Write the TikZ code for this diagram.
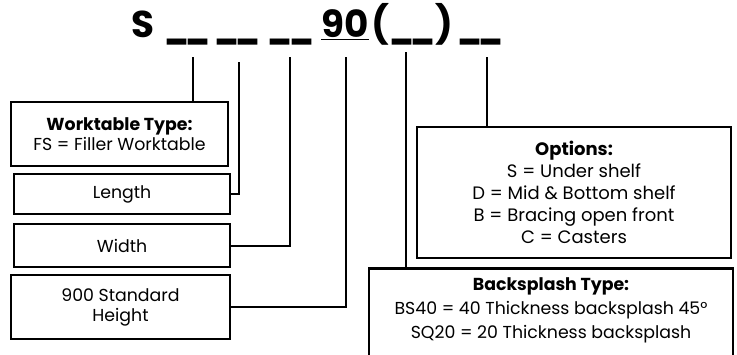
\documentclass[tikz,border=0pt]{standalone}
\usepackage{fontspec}
\setmainfont{Poppins}
\usetikzlibrary{positioning}

\newcommand{\blank}{\scalebox{0.85}[1]{\_\kern-3pt\_}}

\begin{document}
\begin{tikzpicture}[x=0.75pt,y=-0.75pt,align=center,
  code part/.style={font=\fontsize{28}{30}\selectfont\bfseries,anchor=base,inner sep=0pt},
  info box/.style={draw,line width=1.8pt,inner sep=0pt,font=\fontsize{13}{15}\selectfont},
  lead/.style={line width=1.5pt}]

\useasboundingbox (0,0) rectangle (737,354);

% the part code
\node[code part] (s)      at (142.5,37) {S};
\node[code part] (blank1) at (187.5,37) {\blank};
\node[code part] (blank2) at (237.5,37) {\blank};
\node[code part] (blank3) at (291,37) {\blank};
\node[code part] (ninety) at (345,37) {\underline{90}};
\node[code part] (blank5) at (412.5,37) {(\blank)};
\node[code part] (blank6) at (480.5,37) {\blank};

% boxes
\node[info box,minimum width=163pt,minimum height=48pt] (wt) at (119.5,134)
  {\textbf{Worktable Type:}\\FS = Filler Worktable};
\node[info box,minimum width=162pt,minimum height=30pt] (len) at (122,194) {Length};
\node[info box,minimum width=162pt,minimum height=32pt] (wid) at (122,245.5) {Width};
\node[info box,minimum width=164pt,minimum height=48pt] (ht) at (120.5,307)
  {900 Standard\\Height};
\node[info box,minimum width=235.5pt,minimum height=98pt,font=\fontsize{13.5}{16.5}\selectfont] (opt) at (574,192.5)
  {\textbf{Options:}\\S = Under shelf\\D = Mid \& Bottom shelf\\B = Bracing open front\\C = Casters};
\node[info box,minimum width=273pt,minimum height=82pt,font=\fontsize{13}{18}\selectfont,
  text depth=22pt] (bs) at (551,323)
  {\textbf{Backsplash Type:}\\BS40 = 40 Thickness backsplash 45°\\SQ20 = 20 Thickness backsplash};

% leads from the code down to the boxes
\coordinate (top1) at (193,57);
\coordinate (top2) at (239,62);
\coordinate (top3) at (290,57);
\coordinate (top4) at (346,57);
\coordinate (top5) at (406,52);
\coordinate (top6) at (487,57);

\draw[lead] (top1) -- (top1 |- wt.north);
\draw[lead] (top2) |- (len.east);
\draw[lead] (top3) |- (wid.east);
\draw[lead] (top4) |- (ht.east);
\draw[lead] (top5) -- (top5 |- bs.north);
\draw[lead] (top6) -- (top6 |- opt.north);

\end{tikzpicture}
\end{document}
